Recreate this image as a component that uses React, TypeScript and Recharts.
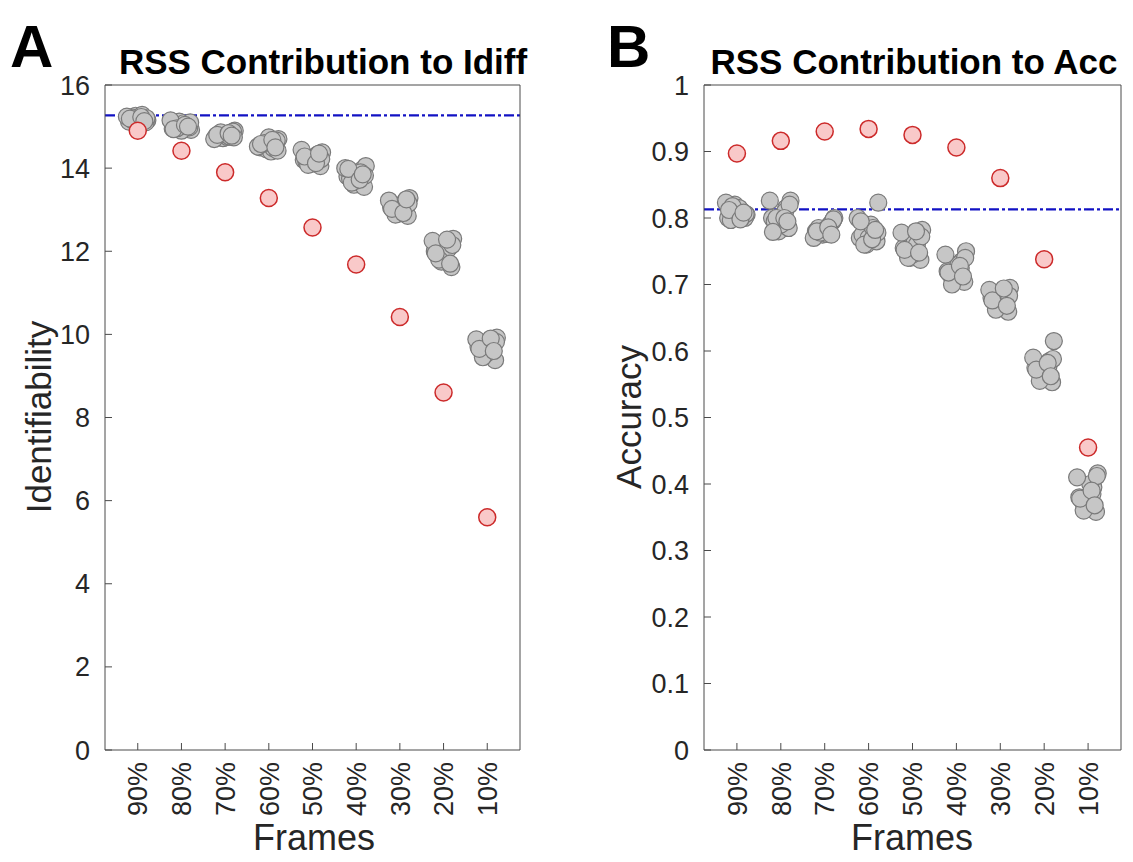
import React from "react";
import {
  ScatterChart,
  Scatter,
  XAxis,
  YAxis,
  ReferenceLine,
} from "recharts";

const frames = ["90%", "80%", "70%", "60%", "50%", "40%", "30%", "20%", "10%"];
const catTicks = [1, 2, 3, 4, 5, 6, 7, 8, 9];

// horizontal jitter used for the gray subject points (category units)
const jitter = [-0.2, 0.12, -0.05, 0.22, -0.14, 0.05, 0.18, -0.25, 0.0, 0.1, -0.1, 0.2, -0.18, 0.08, 0.15];

// Panel A – identifiability
const idiff90 = [15.12, 15.2, 15.26, 15.15, 15.22, 15.18, 15.1, 15.24, 15.16, 15.28, 15.14, 15.2, 15.19, 15.23, 15.13];
const idiff80 = [14.95, 15.05, 15.12, 14.92, 15.0, 15.08, 14.98, 15.15, 14.9, 15.02, 14.96, 15.1, 14.94, 15.04, 15.0];
const idiff70 = [14.78, 14.85, 14.72, 14.9, 14.8, 14.75, 14.88, 14.7, 14.82, 14.76, 14.86, 14.74, 14.8, 14.84, 14.78];
const idiff60 = [14.5, 14.62, 14.45, 14.7, 14.55, 14.4, 14.66, 14.52, 14.74, 14.48, 14.6, 14.42, 14.58, 14.68, 14.5];
const idiff50 = [14.2, 14.3, 14.1, 14.38, 14.15, 14.25, 14.05, 14.44, 14.18, 14.32, 14.08, 14.22, 14.28, 14.12, 14.35];
const idiff40 = [13.8, 13.95, 13.6, 14.05, 13.75, 13.88, 13.55, 14.0, 13.7, 13.9, 13.65, 13.82, 13.98, 13.72, 13.85];
const idiff30 = [13.05, 13.2, 12.9, 13.28, 13.0, 13.12, 12.85, 13.22, 12.95, 13.08, 12.88, 13.15, 13.02, 12.92, 13.25];
const idiff20 = [12.0, 12.2, 11.75, 12.3, 11.9, 12.1, 11.62, 12.25, 11.85, 12.05, 11.8, 12.15, 11.95, 12.28, 11.7];
const idiff10 = [9.7, 9.85, 9.5, 9.92, 9.62, 9.78, 9.38, 9.88, 9.55, 9.75, 9.45, 9.82, 9.65, 9.9, 9.6];
const idiffRss = [14.9, 14.42, 13.9, 13.28, 12.57, 11.68, 10.42, 8.6, 5.6];
const idiffFull = 15.27;
const idiffTicks = [0, 2, 4, 6, 8, 10, 12, 14, 16];

// Panel B – accuracy
const acc90 = [0.8, 0.81, 0.82, 0.805, 0.797, 0.815, 0.8, 0.823, 0.81, 0.8, 0.818, 0.806, 0.812, 0.798, 0.808];
const acc80 = [0.8, 0.815, 0.78, 0.826, 0.795, 0.805, 0.785, 0.826, 0.79, 0.81, 0.8, 0.82, 0.779, 0.8, 0.795];
const acc70 = [0.78, 0.79, 0.775, 0.8, 0.785, 0.776, 0.795, 0.77, 0.782, 0.788, 0.778, 0.798, 0.78, 0.786, 0.775];
const acc60 = [0.77, 0.78, 0.76, 0.823, 0.775, 0.79, 0.765, 0.8, 0.77, 0.785, 0.76, 0.778, 0.795, 0.768, 0.782];
const acc50 = [0.755, 0.77, 0.74, 0.782, 0.75, 0.765, 0.737, 0.778, 0.745, 0.76, 0.74, 0.772, 0.752, 0.78, 0.748];
const acc40 = [0.72, 0.735, 0.705, 0.75, 0.715, 0.73, 0.704, 0.745, 0.71, 0.725, 0.7, 0.74, 0.718, 0.728, 0.712];
const acc30 = [0.68, 0.69, 0.665, 0.695, 0.675, 0.685, 0.659, 0.692, 0.67, 0.688, 0.662, 0.683, 0.676, 0.694, 0.668];
const acc20 = [0.575, 0.585, 0.56, 0.615, 0.57, 0.58, 0.553, 0.59, 0.565, 0.578, 0.555, 0.588, 0.572, 0.582, 0.562];
const acc10 = [0.38, 0.395, 0.365, 0.416, 0.375, 0.4, 0.358, 0.41, 0.37, 0.385, 0.36, 0.412, 0.378, 0.39, 0.368];
const accRss = [0.897, 0.916, 0.93, 0.934, 0.925, 0.906, 0.86, 0.738, 0.455];
const accFull = 0.813;
const accTicks = [0, 0.1, 0.2, 0.3, 0.4, 0.5, 0.6, 0.7, 0.8, 0.9, 1];

const AXIS = "#4a4a4a";
const TEXT = "#262626";

function buildGray(groups: number[][]) {
  const pts: { x: number; y: number }[] = [];
  groups.forEach((vals, i) => {
    vals.forEach((v, j) => pts.push({ x: i + 1 + jitter[j % jitter.length], y: v }));
  });
  return pts;
}

function buildRed(vals: number[]) {
  return vals.map((v, i) => ({ x: i + 1, y: v }));
}

const grayDot = (p: any) => (
  <circle cx={p.cx} cy={p.cy} r={8.5} fill="#c6c6c6" stroke="#7a7a7a" strokeWidth={1.2} />
);
const redDot = (p: any) => (
  <circle cx={p.cx} cy={p.cy} r={8.5} fill="#f9c9c9" stroke="#cc2a2a" strokeWidth={1.5} />
);

const FrameTick = (props: any) => {
  const { x, y, payload } = props;
  return (
    <text
      x={x}
      y={y}
      transform={`rotate(-90 ${x} ${y})`}
      textAnchor="end"
      dy="0.36em"
      fontSize={27}
      fill={TEXT}
    >
      {frames[payload.value - 1]}
    </text>
  );
};

interface PanelProps {
  gray: { x: number; y: number }[];
  red: { x: number; y: number }[];
  full: number;
  yTicks: number[];
  yMax: number;
  width: number;
  marginLeft: number;
  marginRight: number;
}

function Panel({ gray, red, full, yTicks, yMax, width, marginLeft, marginRight }: PanelProps) {
  return (
    <ScatterChart
      width={width}
      height={862}
      margin={{ top: 84, right: marginRight, bottom: 0, left: marginLeft }}
    >
      <XAxis
        type="number"
        dataKey="x"
        domain={[0.25, 9.75]}
        ticks={catTicks}
        interval={0}
        height={112}
        tickSize={-7}
        tickMargin={19}
        axisLine={{ stroke: AXIS }}
        tickLine={{ stroke: AXIS }}
        tick={<FrameTick />}
      />
      <XAxis
        xAxisId="top"
        orientation="top"
        type="number"
        dataKey="x"
        domain={[0.25, 9.75]}
        ticks={catTicks}
        interval={0}
        height={1}
        tickSize={-7}
        axisLine={{ stroke: AXIS }}
        tickLine={{ stroke: AXIS }}
        tick={false}
      />
      <YAxis
        type="number"
        dataKey="y"
        domain={[0, yMax]}
        ticks={yTicks}
        interval={0}
        width={90}
        tickSize={-7}
        tickMargin={22}
        axisLine={{ stroke: AXIS }}
        tickLine={{ stroke: AXIS }}
        tick={{ fontSize: 27, fill: TEXT }}
      />
      <YAxis
        yAxisId="right"
        orientation="right"
        type="number"
        domain={[0, yMax]}
        ticks={yTicks}
        interval={0}
        width={1}
        tickSize={-7}
        axisLine={{ stroke: AXIS }}
        tickLine={{ stroke: AXIS }}
        tick={false}
      />
      <ReferenceLine
        y={full}
        stroke="#1212c4"
        strokeWidth={2.4}
        strokeDasharray="10 3 3 3"
        ifOverflow="extendDomain"
      />
      <Scatter data={gray} shape={grayDot} isAnimationActive={false} />
      <Scatter data={red} shape={redDot} isAnimationActive={false} />
    </ScatterChart>
  );
}

const abs = (s: React.CSSProperties): React.CSSProperties => ({
  position: "absolute",
  whiteSpace: "nowrap",
  lineHeight: 1,
  color: "#000",
  ...s,
});

export default function App() {
  const grayA = buildGray([idiff90, idiff80, idiff70, idiff60, idiff50, idiff40, idiff30, idiff20, idiff10]);
  const grayB = buildGray([acc90, acc80, acc70, acc60, acc50, acc40, acc30, acc20, acc10]);

  return (
    <div
      style={{
        position: "absolute",
        left: 0,
        top: 0,
        width: 1133,
        height: 862,
        background: "#fff",
        fontFamily: "'Liberation Sans', Arial, sans-serif",
        overflow: "hidden",
      }}
    >
      <div style={{ position: "absolute", left: 0, top: 0 }}>
        <Panel
          gray={grayA}
          red={buildRed(idiffRss)}
          full={idiffFull}
          yTicks={idiffTicks}
          yMax={16}
          width={560}
          marginLeft={15}
          marginRight={39}
        />
      </div>
      <div style={{ position: "absolute", left: 560, top: 0 }}>
        <Panel
          gray={grayB}
          red={buildRed(accRss)}
          full={accFull}
          yTicks={accTicks}
          yMax={1}
          width={573}
          marginLeft={54}
          marginRight={11}
        />
      </div>

      <div style={abs({ left: 10, top: 17, fontSize: 60, fontWeight: 700 })}>A</div>
      <div style={abs({ left: 607, top: 17, fontSize: 60, fontWeight: 700 })}>B</div>

      <div style={abs({ left: 323, top: 44, fontSize: 35, fontWeight: 700, transform: "translateX(-50%)" })}>
        RSS Contribution to Idiff
      </div>
      <div style={abs({ left: 914, top: 44, fontSize: 35, fontWeight: 700, transform: "translateX(-50%)" })}>
        RSS Contribution to Acc
      </div>

      <div style={abs({ left: 38, top: 417, fontSize: 35, color: TEXT, transform: "translate(-50%, -50%) rotate(-90deg)" })}>
        Identifiability
      </div>
      <div style={abs({ left: 628, top: 417, fontSize: 35, color: TEXT, transform: "translate(-50%, -50%) rotate(-90deg)" })}>
        Accuracy
      </div>

      <div style={abs({ left: 314, top: 820, fontSize: 36, color: TEXT, transform: "translateX(-50%)" })}>Frames</div>
      <div style={abs({ left: 912, top: 820, fontSize: 36, color: TEXT, transform: "translateX(-50%)" })}>Frames</div>
    </div>
  );
}
